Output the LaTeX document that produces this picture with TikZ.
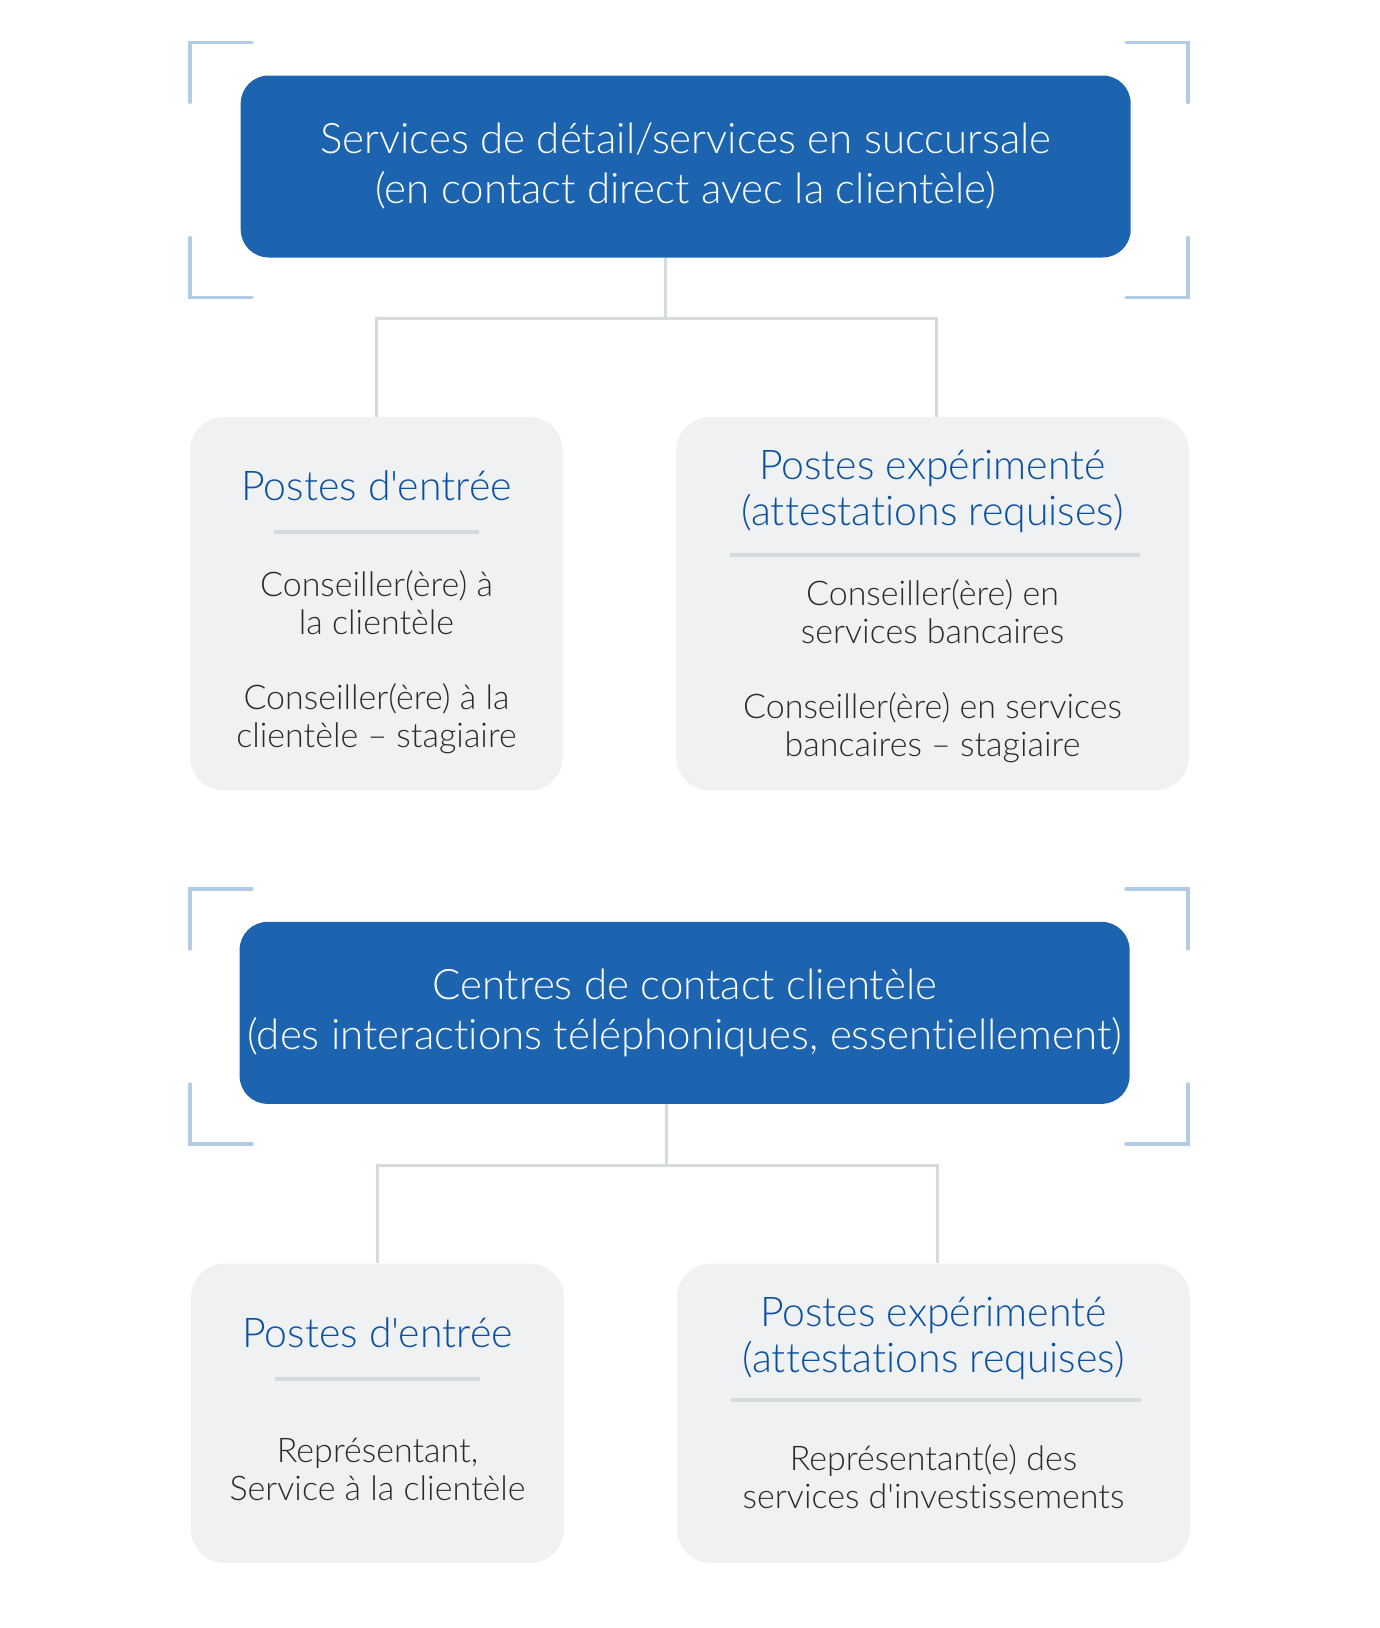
\documentclass[tikz,border=0pt]{standalone}
\usepackage{fontspec}
\setmainfont{Lato}[UprightFont=* Light, Ligatures={TeXOff,CommonOff}]
\usetikzlibrary{positioning}
\definecolor{boxblue}{RGB}{28,100,175}
\definecolor{headblue}{RGB}{10,80,160}
\definecolor{panelgray}{RGB}{240,241,243}
\definecolor{linegray}{RGB}{213,219,221}
\definecolor{bracketblue}{RGB}{180,203,230}
\definecolor{bodytext}{RGB}{43,43,43}
\tikzset{
  sector/.style={fill=boxblue, rounded corners=14pt, text=white, minimum width=445pt, minimum height=91pt, inner xsep=2pt, align=center, font=\fontsize{21}{25}\selectfont},
  panel/.style={fill=panelgray, rounded corners=17pt, minimum height=#1},
  heading/.style={text=headblue, align=center, font=\fontsize{20.5}{23}\selectfont},
  jobs/.style={text=bodytext, align=center, font=\fontsize{17}{19}\selectfont},
  link/.style={draw=linegray, line width=1.5pt},
  rule/.style={draw=linegray, line width=2pt},
  corner/.style={draw=bracketblue, line width=1.7pt, line cap=round},
}

\begin{document}
\begin{tikzpicture}[x=0.5pt,y=-0.5pt]
		\useasboundingbox (0,0) rectangle (1380,1628);
		% brackets
		\foreach \t in {42.5,889} {
			\draw[corner] (190,\t+60) -- (190,\t) -- (252,\t);
			\draw[corner] (190,\t+195) -- (190,\t+255) -- (252,\t+255);
			\draw[corner] (1188,\t+60) -- (1188,\t) -- (1126,\t);
			\draw[corner] (1188,\t+195) -- (1188,\t+255) -- (1126,\t+255);
		}
		% top part
		\node[sector] (branch) at (685.7,166.5) {Services de détail/services en succursale\\(en contact direct avec la clientèle)};
		\node[panel=186.75pt, minimum width=186.5pt] (entry1) at (376.5,603.75) {};
		\node[panel=186.75pt, minimum width=256.5pt] (senior1) at (932.5,603.75) {};
		\coordinate (fork1) at (665,318.5);
		\coordinate (drop1) at (936,318.5);
		\draw[link] (fork1 |- branch.south) -- (fork1);
		\draw[link] (entry1.north) |- (drop1) -- (drop1 |- senior1.north);
		\node[heading] (entry1t) at (376.5,485.5) {Postes d'entrée};
		\draw[rule] (274,532) -- (479,532);
		\node[jobs] (entry1b) at (376.5,662) {Conseiller(ère) à\\la clientèle\\[18.5pt]Conseiller(ère) à la\\clientèle – stagiaire};
		\node[heading] (senior1t) at (932.5,491) {Postes expérimenté\\(attestations requises)};
		\draw[rule] (730,555) -- (1140,555);
		\node[jobs] (senior1b) at (932.5,671) {Conseiller(ère) en\\services bancaires\\[18.5pt]Conseiller(ère) en services\\bancaires – stagiaire};
		% bottom part
		\node[sector] (contact) at (684.6,1012.85) {Centres de contact clientèle\\(des interactions téléphoniques, essentiellement)};
		\node[panel=149.75pt, minimum width=186.5pt] (entry2) at (377.5,1413.25) {};
		\node[panel=149.75pt, minimum width=256.5pt] (senior2) at (933.5,1413.25) {};
		\coordinate (fork2) at (666,1165);
		\coordinate (drop2) at (937,1165);
		\draw[link] (fork2 |- contact.south) -- (fork2);
		\draw[link] (entry2.north) |- (drop2) -- (drop2 |- senior2.north);
		\node[heading] (entry2t) at (377.5,1333) {Postes d'entrée};
		\draw[rule] (275,1378.6) -- (480,1378.6);
		\node[jobs] (entry2b) at (377.5,1469) {Représentant,\\Service à la clientèle};
		\node[heading] (senior2t) at (933.5,1338.5) {Postes expérimenté\\(attestations requises)};
		\draw[rule] (731,1400) -- (1141,1400);
		\node[jobs] (senior2b) at (933.5,1476.5) {Représentant(e) des\\services d'investissements};
\end{tikzpicture}
\end{document}
